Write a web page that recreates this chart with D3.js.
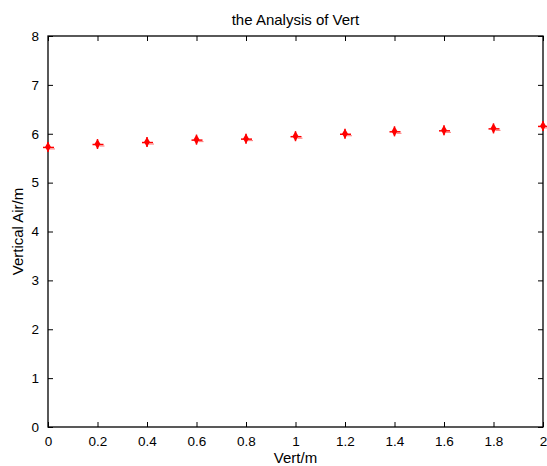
<!DOCTYPE html>
<html><head><meta charset="utf-8">
<script src="https://cdn.jsdelivr.net/npm/d3@7"></script>
<style>body{margin:0;background:#fff}text{font-family:"Liberation Sans",Arial,sans-serif}</style>
</head><body>
<script>
const xValues = [0, 0.2, 0.4, 0.6, 0.8, 1.0, 1.2, 1.4, 1.6, 1.8, 2.0];
const yValues = [5.73, 5.79, 5.83, 5.88, 5.90, 5.95, 6.00, 6.05, 6.07, 6.11, 6.16];
const xTicks = [0, 0.2, 0.4, 0.6, 0.8, 1, 1.2, 1.4, 1.6, 1.8, 2];
const yTicks = [0, 1, 2, 3, 4, 5, 6, 7, 8];
const title = "the Analysis of Vert";
const xLabel = "Vert/m";
const yLabel = "Vertical Air/m";

const W = 547, H = 466;
const m = {l: 48, r: 4, t: 36, b: 39};
const svg = d3.select("body").append("svg").attr("width", W).attr("height", H);
const x = d3.scaleLinear().domain([0, 2]).range([m.l, W - m.r]);
const y = d3.scaleLinear().domain([0, 8]).range([H - m.b, m.t]);
const fmt = d => String(d);

// box
svg.append("rect").attr("x", m.l).attr("y", m.t).attr("width", W - m.r - m.l).attr("height", H - m.b - m.t)
  .attr("fill", "none").attr("stroke", "#000").attr("stroke-width", 1.3);

const tickLen = 5;
const ax = (axis, tx, ty) => {
  const g = svg.append("g").attr("transform", `translate(${tx},${ty})`).call(axis);
  g.select(".domain").remove();
  g.selectAll("line").attr("stroke", "#000");
  g.selectAll("text").attr("font-size", 13.5).attr("fill", "#000");
  return g;
};
ax(d3.axisBottom(x).tickValues(xTicks).tickFormat(fmt).tickSizeInner(-tickLen).tickPadding(9), 0, H - m.b);
ax(d3.axisTop(x).tickValues(xTicks).tickFormat("").tickSizeInner(-tickLen), 0, m.t);
ax(d3.axisLeft(y).tickValues(yTicks).tickFormat(fmt).tickSizeInner(-tickLen).tickPadding(9), m.l, 0);
ax(d3.axisRight(y).tickValues(yTicks).tickFormat("").tickSizeInner(-tickLen), W - m.r, 0);

// markers
const pts = svg.append("g");
xValues.forEach((xv, i) => {
  const cx = x(xv), cy = y(yValues[i]);
  const g = pts.append("g").attr("transform", `translate(${cx},${cy})`);
  g.append("path").attr("d", d3.symbol(d3.symbolDiamond, 30)()).attr("fill", "#f00");
  g.append("line").attr("x1", -5).attr("x2", 6).attr("y1", 0.5).attr("y2", 0.5).attr("stroke", "#f00").attr("stroke-width", 1.5);
  g.append("line").attr("x1", 0).attr("x2", 0).attr("y1", -5).attr("y2", 5).attr("stroke", "#f00").attr("stroke-width", 1.5);
  g.append("line").attr("x1", 2).attr("x2", 7).attr("y1", 2).attr("y2", 2).attr("stroke", "#f77").attr("stroke-width", 1);
});

svg.append("text").attr("x", (m.l + W - m.r) / 2).attr("y", 25).attr("text-anchor", "middle").attr("font-size", 15).text(title);
svg.append("text").attr("x", (m.l + W - m.r) / 2).attr("y", 463).attr("text-anchor", "middle").attr("font-size", 15).text(xLabel);
svg.append("text").attr("transform", `translate(23,${(m.t + H - m.b) / 2}) rotate(-90)`).attr("text-anchor", "middle").attr("font-size", 15).text(yLabel);
</script>
</body></html>
